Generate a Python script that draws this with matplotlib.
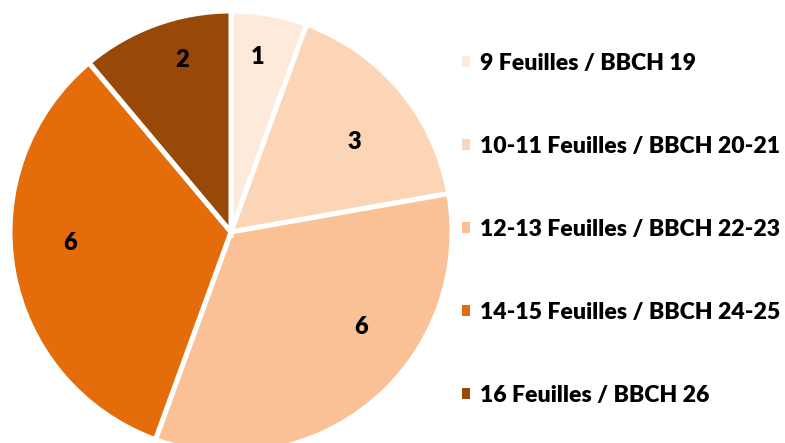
import matplotlib.pyplot as plt
import numpy as np

# stades foliaires
categories = ["9 Feuilles / BBCH 19", "10-11 Feuilles / BBCH 20-21",
              "12-13 Feuilles / BBCH 22-23", "14-15 Feuilles / BBCH 24-25",
              "16 Feuilles / BBCH 26"]
values = [1, 3, 6, 6, 2]
colors = ["#FDEADA", "#FBD5B5", "#F9C195", "#E46C0A", "#984807"]

# label placement tweaks (radius fraction, angle shift in degrees)
lab_r = [0.80, 0.69, 0.73, 0.73, 0.81]
lab_da = [1.5, -4, 14, -6, -4]

plt.rcParams['font.family'] = ['Lato', 'DejaVu Sans']

W, H = 785, 443
fig = plt.figure(figsize=(W / 100, H / 100), dpi=100)
cx, cy, r = 231, H - 232, 221
ax = fig.add_axes([(cx - r) / W, (cy - r) / H, 2 * r / W, 2 * r / H])

wedges, _ = ax.pie(values, colors=colors, startangle=90, counterclock=False,
                   wedgeprops=dict(edgecolor='white', linewidth=3.6))
ax.set_xlim(-1, 1)
ax.set_ylim(-1, 1)
ax.set_aspect('equal')
ax.axis('off')

for w, v, rr, da in zip(wedges, values, lab_r, lab_da):
    a = np.deg2rad((w.theta1 + w.theta2) / 2 + da)
    ax.text(rr * np.cos(a), rr * np.sin(a), str(v), ha='center', va='center',
            fontsize=17, fontweight='heavy', color='black')

leg = fig.legend(wedges, categories, loc='upper left',
                 bbox_to_anchor=(441 / W, 1 - 32 / H), frameon=False,
                 prop=dict(weight='heavy', size=16.6),
                 handlelength=0.36, handleheight=0.36, handletextpad=0.44,
                 labelspacing=2.69)
for h in leg.legend_handles:
    h.set_edgecolor('none')

fig.savefig('out.png', dpi=100)
